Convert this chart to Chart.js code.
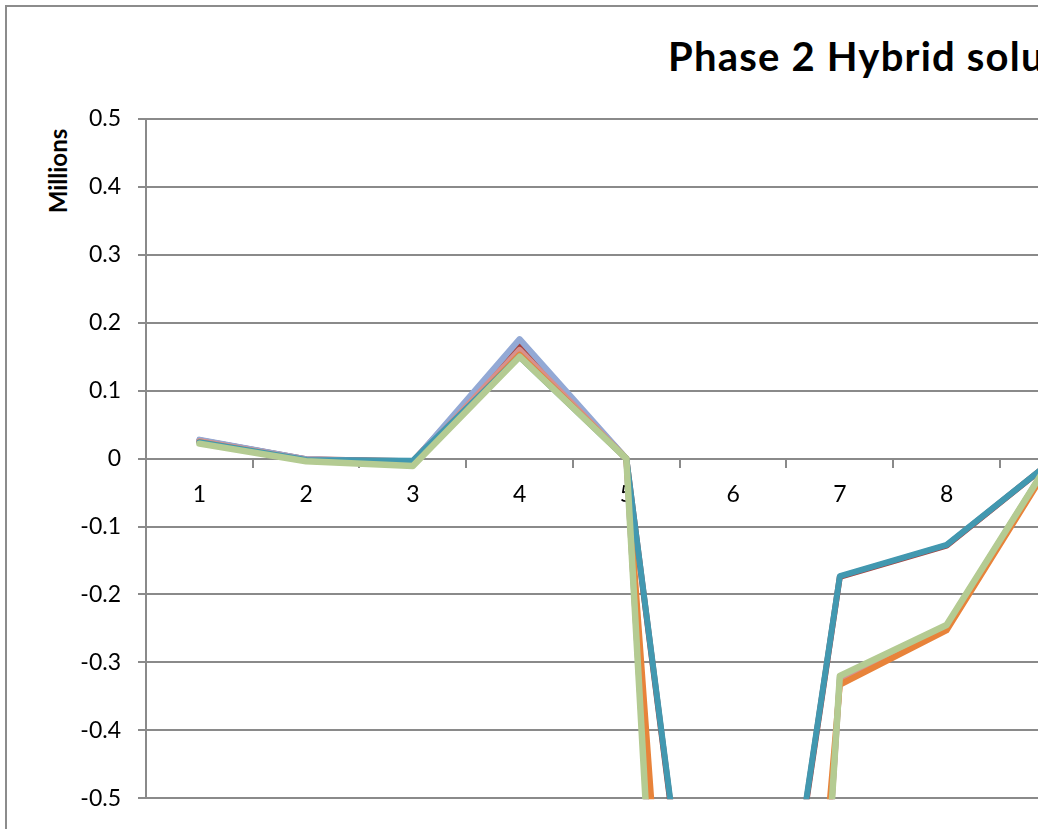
<!DOCTYPE html>
<html>
<head>
<meta charset="utf-8">
<script src="https://cdn.jsdelivr.net/npm/chart.js@4.4.1/dist/chart.umd.min.js"></script>
<style>
  html, body { margin: 0; padding: 0; background: #fff; }
  body { width: 1051px; height: 829px; overflow: hidden; position: relative; }
  #clip { position: absolute; left: 0; top: 0; width: 1038px; height: 829px; overflow: hidden; }
  #frame { position: absolute; left: 5px; top: 5px; width: 1200px; height: 822px;
           border-left: 2px solid #8c8c8c; border-top: 2px solid #8c8c8c; border-bottom: 1px solid #dcdcdc; }
  #title { position: absolute; left: 668px; top: 36px; white-space: nowrap; letter-spacing: 1.2px;
           font-family: Lato, "Open Sans", sans-serif; font-weight: bold; font-size: 40px; line-height: 40px; color: #000; }
  #ytitle { position: absolute; left: 58px; top: 171px; white-space: nowrap;
            font-family: Lato, "Open Sans", sans-serif; font-weight: bold; font-size: 24px; line-height: 24px; color: #000;
            transform: translate(-50%, -50%) rotate(-90deg); }
  canvas { position: absolute; left: 0; top: 0; }
</style>
</head>
<body>
<div id="clip">
  <div id="frame"></div>
  <div id="title">Phase 2 Hybrid solution</div>
  <div id="ytitle">Millions</div>
  <canvas id="c" width="1300" height="829" style="width:1300px;height:829px"></canvas>
</div>
<script>
// ---- data (values in millions) ----
const categories = ['1', '2', '3', '4', '5', '6', '7', '8', '9'];
const yTicks      = [-0.5, -0.4, -0.3, -0.2, -0.1, 0, 0.1, 0.2, 0.3, 0.4, 0.5];
const yTickLabels = ['-0.5', '-0.4', '-0.3', '-0.2', '-0.1', '0', '0.1', '0.2', '0.3', '0.4', '0.5'];

// listed bottom layer first (as Excel draws them)
const seriesNames = ['Series 1', 'Series 2', 'Series 3', 'Series 4', 'Series 5', 'Series 6'];
const seriesDarkRed = [0.027, -0.001, -0.004, 0.168, 0, -1.23, -0.174, -0.128, -0.002];
const seriesBlue    = [0.028, -0.001, -0.005, 0.176, 0, -2.70, -0.322, -0.247, 0.005];
const seriesRed     = [0.026, -0.002, -0.007, 0.160, 0, -2.70, -0.326, -0.249, 0.005];
const seriesOrange  = [0.024, -0.003, -0.009, 0.153, 0, -2.15, -0.333, -0.253, 0.000];
const seriesTeal    = [0.024, -0.002, -0.003, 0.150, 0, -1.22, -0.173, -0.127, -0.002];
const seriesGreen   = [0.022, -0.004, -0.011, 0.150, 0, -2.80, -0.320, -0.245, 0.005];

const seriesValues = [seriesDarkRed, seriesBlue, seriesRed, seriesOrange, seriesTeal, seriesGreen];
const seriesColors = ['#a3433f', '#93a9d5', '#d7908d', '#e8833a', '#4298b0', '#b4cb92'];
const seriesWidths = [6, 6, 6, 6, 6, 6.5];

const datasets = seriesValues.map((vals, i) => ({
  label: seriesNames[i],
  data: vals,
  borderColor: seriesColors[i],
  backgroundColor: seriesColors[i],
  borderWidth: seriesWidths[i],
  pointRadius: 0,
  pointHoverRadius: 0,
  tension: 0,
  fill: false,
  borderJoinStyle: 'round',
  borderCapStyle: 'round',
  clip: 1,
  order: seriesValues.length - i
}));

const GRID = '#8a8a8a';
const TICKFONT = { family: 'Lato, "Open Sans", sans-serif', size: 23 };

new Chart(document.getElementById('c'), {
  type: 'line',
  data: { labels: categories, datasets },
  options: {
    responsive: false,
    animation: false,
    events: [],
    layout: { padding: { left: 0, top: 119, right: 193.3, bottom: 27.5 } },
    plugins: { legend: { display: false }, title: { display: false }, tooltip: { enabled: false } },
    scales: {
      x: {
        type: 'category',
        position: { y: 0 },
        offset: true,
        grid: { display: true, drawOnChartArea: false, drawTicks: true, tickLength: 8, offset: true, color: GRID, lineWidth: 2 },
        border: { display: true, color: GRID, width: 2 },
        ticks: { color: '#000', font: TICKFONT, padding: 14, maxRotation: 0, autoSkip: false }
      },
      y: {
        type: 'linear',
        min: -0.5,
        max: 0.5,
        afterBuildTicks: (scale) => { scale.ticks = yTicks.map(v => ({ value: v })); },
        afterFit: (scale) => { scale.width = 146; },
        grid: { display: true, drawOnChartArea: true, drawTicks: true, tickLength: 8, color: GRID, lineWidth: 2 },
        border: { display: true, color: GRID, width: 2 },
        ticks: {
          color: '#000', font: TICKFONT, padding: 17,
          callback: (value, index) => yTickLabels[index]
        }
      }
    }
  }
});
</script>
</body>
</html>
